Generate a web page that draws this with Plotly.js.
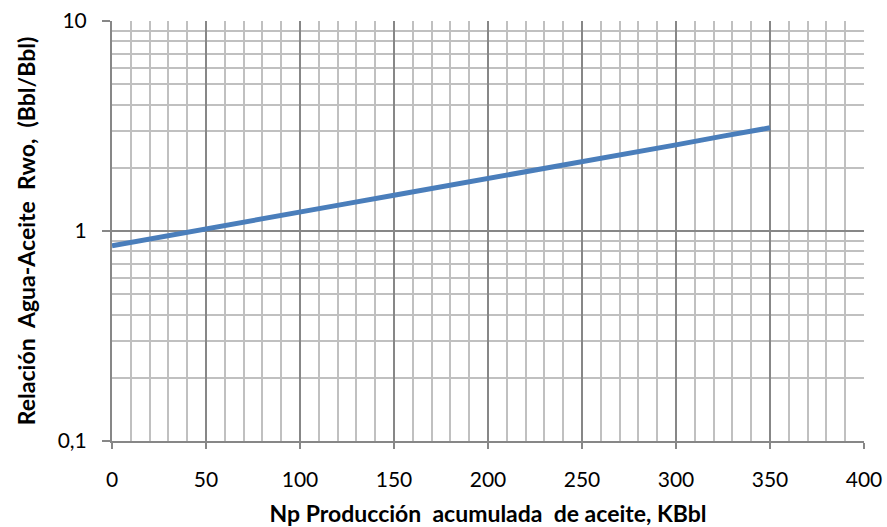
<!DOCTYPE html>
<html><head><meta charset="utf-8">
<script src="https://cdn.plot.ly/plotly-3.0.1.min.js"></script>
<style>body{margin:0}#c{width:887px;height:527px}</style>
</head><body><div id="c"></div>
<script>
const npKBbl = [0, 25, 50, 75, 100, 125, 150, 175, 200, 225, 250, 275, 300, 325, 350];
const rwo = [0.85, 0.93, 1.02, 1.12, 1.23, 1.35, 1.48, 1.62, 1.78, 1.95, 2.14, 2.35, 2.57, 2.83, 3.1];
const yTickVals = [0.1, 1, 10];
const yTickText = ['0,1', '1', '10'];
const yMinorVals = [0.2,0.3,0.4,0.5,0.6,0.7,0.8,0.9,2,3,4,5,6,7,8,9];
const fontFam = 'Lato, Calibri, "Open Sans", sans-serif';
Plotly.newPlot('c', [{
  x: npKBbl, y: rwo, type: 'scatter', mode: 'lines',
  line: {color: '#4a7ebb', width: 5}, hoverinfo: 'skip'
}], {
  width: 887, height: 527,
  margin: {l: 112, r: 23, t: 21, b: 86},
  paper_bgcolor: '#fff', plot_bgcolor: '#fff',
  showlegend: false,
  font: {family: fontFam, size: 21, color: '#000'},
  xaxis: {
    range: [0, 400], dtick: 50, tick0: 0,
    showgrid: true, gridcolor: '#878787', gridwidth: 2,
    minor: {dtick: 10, showgrid: true, gridcolor: '#c0c0c0', gridwidth: 2, ticks: ''},
    showline: true, linecolor: '#878787', linewidth: 2,
    ticks: 'outside', ticklen: 6, tickcolor: '#878787', tickwidth: 2,
    ticklabelstandoff: 13,
    zeroline: false,
    title: {text: 'Np Producción  acumulada  de aceite, KBbl', font: {size: 23, family: fontFam, weight: 'bold'}, standoff: 17}
  },
  yaxis: {
    type: 'log', range: [-1, 1],
    tickmode: 'array', tickvals: yTickVals, ticktext: yTickText,
    showgrid: true, gridcolor: '#878787', gridwidth: 2,
    minor: {tickmode: 'array', tickvals: yMinorVals, showgrid: true, gridcolor: '#c0c0c0', gridwidth: 2, ticks: ''},
    showline: true, linecolor: '#878787', linewidth: 2,
    ticks: 'outside', ticklen: 8, tickcolor: '#878787', tickwidth: 2,
    ticklabelstandoff: 11,
    zeroline: false,
    title: {text: 'Relación  Agua-Aceite  Rwo,  (Bbl/Bbl)', font: {size: 23, family: fontFam, weight: 'bold'}, standoff: 16}
  }
}, {displayModeBar: false, staticPlot: true});
</script></body></html>
